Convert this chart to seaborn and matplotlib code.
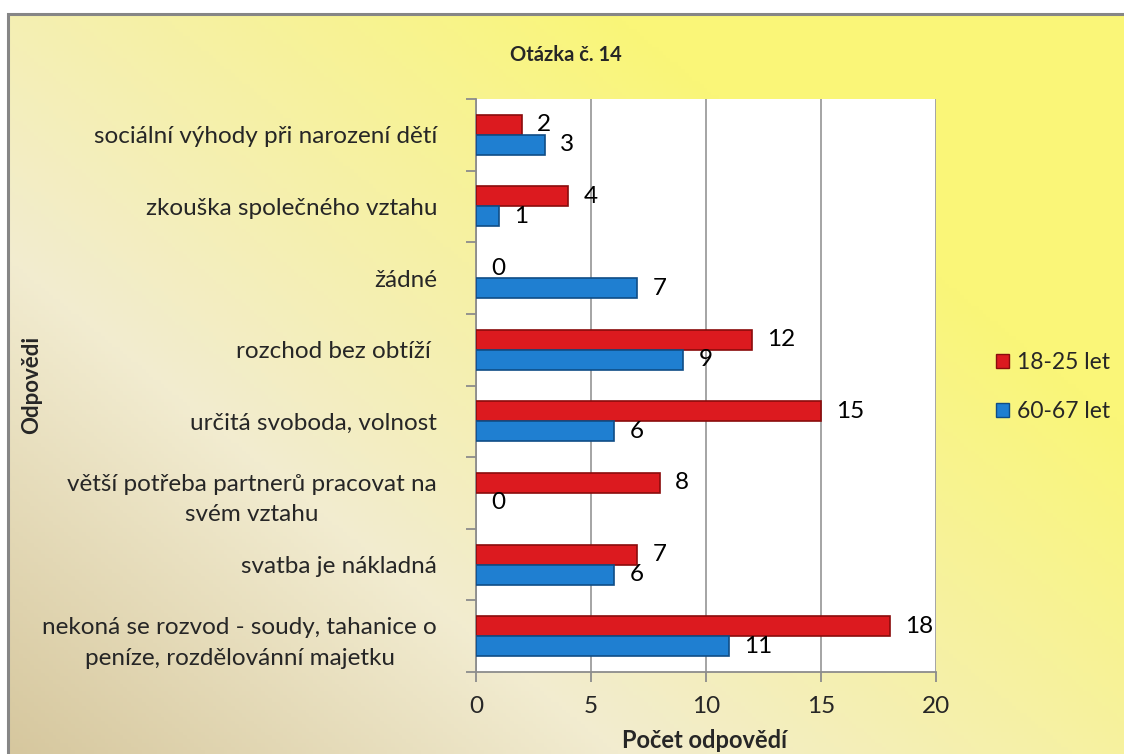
import numpy as np
import pandas as pd
import matplotlib
matplotlib.use("Agg")
import matplotlib.pyplot as plt
from matplotlib.patches import Rectangle, Patch
from matplotlib.ticker import FixedLocator
import seaborn as sns

categories = [
    "sociální výhody při narození dětí",
    "zkouška společného vztahu",
    "žádné",
    "rozchod bez obtíží ",
    "určitá svoboda, volnost",
    "větší potřeba partnerů pracovat na\nsvém vztahu",
    "svatba je nákladná",
    "nekoná se rozvod - soudy, tahanice o\npeníze, rozdělovánní majetku",
]
values_18_25 = [2, 4, 0, 12, 15, 8, 7, 18]
values_60_67 = [3, 1, 7, 9, 6, 0, 6, 11]
series_names = ["18-25 let", "60-67 let"]
x_ticks = [0, 5, 10, 15, 20]

title = "Otázka č. 14"
x_label = "Počet odpovědí"
y_label = "Odpovědi"

df = pd.DataFrame({
    "kategorie": categories * 2,
    "pocet": values_18_25 + values_60_67,
    "skupina": [series_names[0]] * len(categories) + [series_names[1]] * len(categories),
})

sns.set_theme(style="white")
plt.rcParams["font.family"] = ["Lato", "DejaVu Sans"]

FS = 17.5
W, H = 1124, 754
fig = plt.figure(figsize=(W / 100, H / 100), dpi=100)
fig.patch.set_facecolor("white")

# gradient background (decoration)
bg = fig.add_axes([8 / W, 0, 1 - 8 / W, 1 - 14 / H], zorder=-10)
ny, nx = 200, 300
yy, xx = np.mgrid[0:ny, 0:nx]
u = xx / (nx - 1)
v = 1 - yy / (ny - 1)
t = np.clip(0.55 * u + 0.45 * v, 0, 1)
c_tan = np.array([214, 199, 158]) / 255
c_cream = np.array([242, 236, 208]) / 255
c_yel = np.array([250, 246, 120]) / 255
stops = [0.0, 0.3, 0.75]
img = np.zeros((ny, nx, 3))
for ch in range(3):
    img[..., ch] = np.interp(t, stops, [c_tan[ch], c_cream[ch], c_yel[ch]])
bg.imshow(img, aspect="auto", extent=[0, 1, 0, 1], origin="upper")
bg.set_axis_off()
fig.add_artist(Rectangle((8 / W, -0.01), 1.0, 1 - 14 / H + 0.01, transform=fig.transFigure,
                         fill=False, edgecolor="#868686", linewidth=2.2, zorder=5))

ax = fig.add_axes([476 / W, (H - 672) / H, (936 - 476) / W, (672 - 99) / H])
ax.set_facecolor("white")

palette = {series_names[0]: "#dc1a1f", series_names[1]: "#1f7fd1"}
sns.barplot(data=df, x="pocet", y="kategorie", hue="skupina", hue_order=series_names,
            order=categories, palette=palette, orient="h", width=0.56, ax=ax,
            legend=False, saturation=1, zorder=3)

edge = {0: "#8a0c0c", 1: "#0f4d86"}
for i, cont in enumerate(ax.containers):
    vals = values_18_25 if i == 0 else values_60_67
    for p, val in zip(cont, vals):
        p.set_edgecolor(edge[i])
        p.set_linewidth(1.2 if val > 0 else 0)
    ax.bar_label(cont, labels=[str(v) for v in vals],
                 padding=11, fontsize=FS, color="black")

ax.set_xlim(0, 20)
ax.set_xticks(x_ticks)
ax.set_xticklabels([str(v) for v in x_ticks], fontsize=FS)
ax.grid(axis="x", color="#8c8c8c", linewidth=1.1, zorder=0)
ax.set_axisbelow(True)

for s in ["top", "right"]:
    ax.spines[s].set_visible(False)
for s in ["left", "bottom"]:
    ax.spines[s].set_color("#8c8c8c")
    ax.spines[s].set_linewidth(1.3)

ax.yaxis.set_minor_locator(FixedLocator(np.arange(-0.5, len(categories), 1.0)))
ax.tick_params(axis="y", which="major", length=0, pad=28, labelsize=FS)
ax.tick_params(axis="y", which="minor", length=7, width=1.3, color="#8c8c8c", left=True)
ax.tick_params(axis="x", which="major", length=7, width=1.3, color="#8c8c8c",
               bottom=True, pad=10, labelsize=FS)
for lab in ax.get_yticklabels():
    lab.set_multialignment("center")
    lab.set_linespacing(1.55)

ax.set_xlabel("")
ax.set_ylabel("")
fig.text(705 / W, 1 - 741 / H, x_label, ha="center", va="center", fontsize=17,
         fontweight="bold")
fig.text(32 / W, 1 - 385 / H, y_label, ha="center", va="center", rotation=90,
         fontsize=16, fontweight="bold")
fig.text(566 / W, 1 - 55 / H, title, ha="center", va="center", fontsize=14.5,
         fontweight="bold")

handles = [Patch(facecolor=palette[n], edgecolor=edge[i], linewidth=1.0)
           for i, n in enumerate(series_names)]
fig.legend(handles, series_names, loc="center left", bbox_to_anchor=(996 / W, 1 - 387 / H),
           frameon=False, fontsize=16.5, handlelength=0.55, handleheight=0.55,
           handletextpad=0.35, labelspacing=1.2, borderpad=0, borderaxespad=0)

fig.savefig("out.png", dpi=100)
